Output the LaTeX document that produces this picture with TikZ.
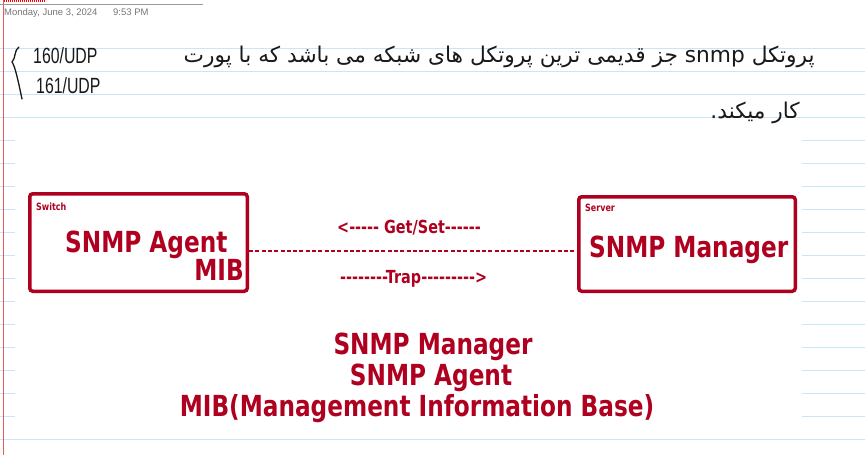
\documentclass[tikz,border=0pt]{standalone}
\usepackage{fontspec}
\setmainfont{Liberation Sans}
\newfontfamily\tahoma[FakeStretch=0.8]{DejaVu Sans}
\newfontfamily\hand[FakeStretch=0.72]{Liberation Sans}
\newfontfamily\farsi[Script=Arabic]{DejaVu Sans}
\TeXXeTstate=1
\usetikzlibrary{positioning}
\definecolor{snmpred}{RGB}{175,0,32}
\definecolor{ruleblue}{RGB}{200,230,248}
\definecolor{marginred}{RGB}{232,90,90}
\definecolor{dategray}{RGB}{118,118,118}
\tikzset{
  ruled/.style={draw=ruleblue,line width=1pt},
  devbox/.style={draw=snmpred,line width=3.5pt,rounded corners=3pt,inner sep=0pt},
  bigtxt/.style={text=snmpred,font=\tahoma\bfseries\fontsize{29}{31}\selectfont,inner sep=0pt},
  midtxt/.style={text=snmpred,font=\tahoma\bfseries\fontsize{18}{20}\selectfont,inner sep=0pt},
  tinytxt/.style={text=snmpred,font=\tahoma\bfseries\fontsize{10}{11}\selectfont,inner sep=0pt},
  inktxt/.style={text=black!90,inner sep=0pt},
  link/.style={draw=snmpred,line width=2pt,dash pattern=on 4pt off 2.3pt}
}
\begin{document}
\begin{tikzpicture}[x=1pt,y=-1pt]
  \useasboundingbox (0,0) rectangle (865,455);
  \fill[white] (0,0) rectangle (865,455);
  \foreach \k in {0,...,17} \draw[ruled] (0,{48+23*\k}) -- (865,{48+23*\k});
  \fill[white] (15,128) rectangle (802,432);
  \draw[marginred,line width=1pt] (3.5,0) -- (3.5,455);
  \draw[gray!80,line width=1pt] (0,4) -- (203,4);
  \draw[red,line width=1.2pt,dash pattern=on 1pt off 1pt] (4,1) -- (45,1);
  \node[text=dategray,font=\fontsize{9.5}{11}\selectfont,anchor=base west,inner sep=0pt] (date) at (4,16) {Monday, June 3, 2024};
  \node[text=dategray,font=\fontsize{9.5}{11}\selectfont,anchor=base west,inner sep=0pt] (time) at (113,16) {9:53 PM};

  \draw[black!90,line width=1.3pt,line cap=round] (19,47) .. controls (14,50) and (16,58) .. (12,62) .. controls (15,66) and (18,80) .. (22,99);
  \node[inktxt,font=\hand\fontsize{22}{24}\selectfont,anchor=base west] (port1) at (33,63) {160/UDP};
  \node[inktxt,font=\hand\fontsize{22}{24}\selectfont,anchor=base west] (port2) at (36,93) {161/UDP};
  \node[inktxt,font=\farsi\fontsize{21.7}{24}\selectfont,anchor=base east] (para1) at (815,62)
    {\beginR پروتکل \beginL snmp\endL{} جز قدیمی ترین پروتکل های شبکه می باشد که با پورت\endR};
  \node[inktxt,font=\farsi\fontsize{21.7}{24}\selectfont,anchor=base east] (para2) at (800,118)
    {\beginR کار میکند.\endR};

  \node[devbox,minimum width=217.5pt,minimum height=97.5pt] (switch) at (138.5,242.5) {};
  \node[devbox,minimum width=216.5pt,minimum height=94.5pt] (server) at (687,244) {};
  \draw[link] (switch.east |- 0,251) -- (server.west |- 0,251);
  \node[tinytxt,anchor=base west] (swname) at (36,210) {Switch};
  \node[tinytxt,anchor=base west] (svname) at (585,211) {Server};
  \node[bigtxt,anchor=base west] (agent) at (65,252) {SNMP Agent};
  \node[bigtxt,anchor=base east] (mib) at (244,280) {MIB};
  \node[bigtxt,anchor=base west] (manager) at (589,257) {SNMP Manager};
  \node[midtxt,anchor=base west] (getset) at (337,233) {<----- Get/Set------};
  \node[midtxt,anchor=base west] (trap) at (340,283) {--------Trap--------->};

  \node[bigtxt,anchor=base] (leg1) at (433,354) {SNMP Manager};
  \node[bigtxt,anchor=base] (leg2) at (431,385) {SNMP Agent};
  \node[bigtxt,anchor=base] (leg3) at (417,416) {MIB(Management Information Base)};
\end{tikzpicture}
\end{document}
